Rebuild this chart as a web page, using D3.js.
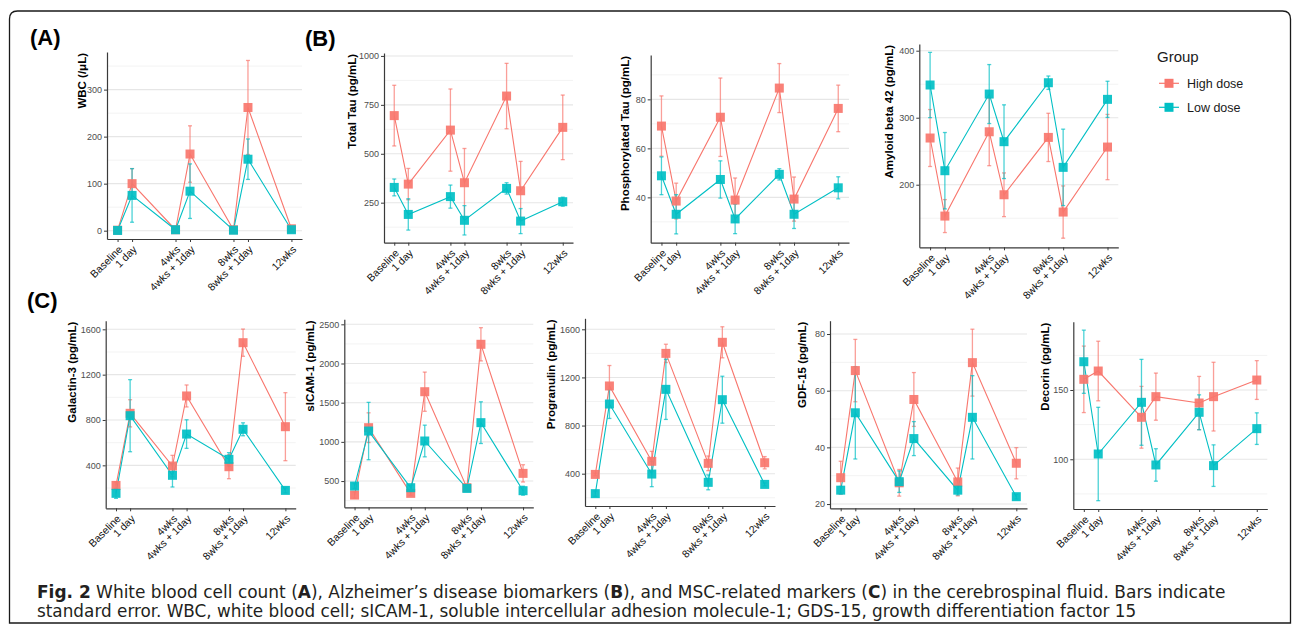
<!DOCTYPE html>
<html>
<head>
<meta charset="utf-8">
<script src="https://cdn.jsdelivr.net/npm/d3@7"></script>
<style>
    body { margin: 0; background: #fff; }
    svg text { font-family: "Liberation Sans", Arial, sans-serif; }
</style>
</head>
<body>
<div id="chart"></div>
<script>

// time points (x in weeks) and group names
const timepoints = ["Baseline", "1 day", "4wks", "4wks + 1day", "8wks", "8wks + 1day", "12wks"];
const timeWeeks = [0, 1, 4, 5, 8, 9, 12];
const groups = ["High dose", "Low dose"];

// (A) WBC
const wbcHigh = [1, 100, 2, 163, 2, 262, 4];
const wbcHighSE = [1, 32, 1, 60, 1, 100, 2];
const wbcLow = [0.5, 75, 2, 84, 1, 152, 2];
const wbcLowSE = [0.5, 57, 1, 58, 1, 43, 1];
const wbcTicks = [0, 100, 200, 300];

// (B) Total Tau
const tauHigh = [695, 345, 621, 352, 795, 311, 635];
const tauHighSE = [155, 80, 210, 175, 167, 150, 165];
const tauLow = [328, 190, 281, 160, 323, 156, 255];
const tauLowSE = [43, 80, 59, 75, 29, 64, 23];
const tauTicks = [250, 500, 750, 1000];

// (B) Phosphorylated Tau
const pTauHigh = [69.1, 38.5, 72.7, 38.9, 84.6, 39.3, 76.3];
const pTauHighSE = [12.3, 7.3, 16, 9, 10, 9, 9.5];
const pTauLow = [48.8, 33.1, 47.3, 31.2, 49.4, 33.1, 43.9];
const pTauLowSE = [7.7, 8, 7.6, 6, 2.3, 5.8, 4.5];
const pTauTicks = [40, 60, 80];

// (B) Amyloid beta 42
const abHigh = [269.7, 153.2, 279, 185, 270.6, 159.2, 256.2];
const abHighSE = [42.5, 24.6, 50.6, 32.6, 36, 39, 48.7];
const abLow = [348.8, 220.9, 335.3, 264.2, 352.2, 225.9, 327.4];
const abLowSE = [48.7, 57, 44, 55, 10, 57, 27];
const abTicks = [200, 300, 400];

// (C) Galactin-3
const galHigh = [223, 859, 394, 1012, 388, 1482, 741];
const galHighSE = [30, 120, 94, 97, 106, 120, 300];
const galLow = [153, 838, 312, 676, 453, 718, 179];
const galLowSE = [44, 318, 103, 126, 59, 57, 22];
const galTicks = [400, 800, 1200, 1600];

// (C) sICAM-1
const icamHigh = [321, 1181, 343, 1640, 415, 2245, 598];
const icamHighSE = [40, 190, 25, 250, 25, 212, 110];
const icamLow = [436, 1138, 415, 1011, 406, 1245, 377];
const icamLowSE = [30, 366, 30, 202, 25, 266, 57];
const icamTicks = [500, 1000, 1500, 2000, 2500];

// (C) Progranulin
const pgrnHigh = [394, 1129, 503, 1400, 486, 1492, 491];
const pgrnHighSE = [10, 170, 83, 76, 61, 129, 51];
const pgrnLow = [234, 979, 397, 1101, 328, 1015, 311];
const pgrnLowSE = [22, 120, 105, 250, 62, 195, 12];
const pgrnTicks = [400, 800, 1200, 1600];

// (C) GDF-15
const gdfHigh = [29.3, 67.1, 27.5, 56.9, 27.8, 69.9, 34.4];
const gdfHighSE = [5.8, 11, 4.7, 9.5, 4.9, 11.8, 5.5];
const gdfLow = [24.9, 52.2, 27.9, 43.1, 24.9, 50.6, 22.6];
const gdfLowSE = [1.3, 16.3, 3.8, 6, 1.7, 14.7, 0.8];
const gdfTicks = [20, 40, 60, 80];

// (C) Decorin
const dcnHigh = [157.7, 163.7, 130.3, 145.2, 140.6, 145.2, 157.2];
const dcnHighSE = [24, 21.5, 22.3, 17, 19.2, 24.8, 14];
const dcnLow = [170.4, 103.8, 141.1, 95.9, 133.9, 95.4, 122.1];
const dcnLowSE = [22.8, 33.7, 31, 11.7, 12.6, 15, 11.4];
const dcnTicks = [100, 150];

const colors = d3.scaleOrdinal().domain(groups).range(["#F8766D", "#00BFC4"]);


class LinePanel {

    constructor(svg, box, yDomain, yTicks, yTitle, high, highSE, low, lowSE) {
        this.svg = svg;
        this.box = box;
        this.yDomain = yDomain;
        this.yTicks = yTicks;
        this.yTitle = yTitle;

        // one row per group, values joined to the time points
        this.displayData = [[high, highSE], [low, lowSE]].map((s, gi) => ({
            group: groups[gi],
            values: timeWeeks.map((w, i) => ({week: w, mean: s[0][i], se: s[1][i]}))
        }));

        this.initVis();
    }

    initVis() {
        let vis = this;
        let b = vis.box;

        vis.x = d3.scaleLinear().domain([-0.73, 12.73]).range([b.left, b.right]);
        vis.y = d3.scaleLinear().domain(vis.yDomain).range([b.bottom, b.top]);

        vis.g = vis.svg.append("g");

        // minor grid lines sit halfway between the major ones
        let step = vis.yTicks[1] - vis.yTicks[0];
        let minor = [vis.yTicks[0] - step / 2].concat(vis.yTicks.map(t => t + step / 2))
            .filter(v => v > vis.yDomain[0] && v < vis.yDomain[1]);

        vis.g.selectAll(".minor").data(minor).enter().append("line")
            .attr("x1", b.left).attr("x2", b.right)
            .attr("y1", d => vis.y(d)).attr("y2", d => vis.y(d))
            .attr("stroke", "#f3f3f3").attr("stroke-width", 1);
        vis.g.selectAll(".major").data(vis.yTicks).enter().append("line")
            .attr("x1", b.left).attr("x2", b.right)
            .attr("y1", d => vis.y(d)).attr("y2", d => vis.y(d))
            .attr("stroke", "#e6e6e6").attr("stroke-width", 1.1);

        // axes
        let yAxis = d3.axisLeft(vis.y).tickValues(vis.yTicks).tickFormat(d3.format("d"))
            .tickSize(3).tickSizeOuter(0).tickPadding(2);
        let yg = vis.g.append("g").attr("transform", `translate(${b.left},0)`).call(yAxis);
        yg.select(".domain").attr("stroke", "#3a3a3a").attr("stroke-width", 1.2);
        yg.selectAll(".tick line").attr("stroke", "#3a3a3a");
        yg.selectAll("text").attr("fill", "#4d4d4d").style("font-size", "9px");

        let xAxis = d3.axisBottom(vis.x).tickValues(timeWeeks).tickSize(3).tickSizeOuter(0)
            .tickFormat((d, i) => timepoints[i]);
        let xg = vis.g.append("g").attr("transform", `translate(0,${b.bottom})`).call(xAxis);
        xg.select(".domain").attr("stroke", "#3a3a3a").attr("stroke-width", 1.2);
        xg.selectAll(".tick line").attr("stroke", "#3a3a3a");
        xg.selectAll("text")
            .attr("x", 0).attr("y", 0).attr("dy", 0)
            .attr("text-anchor", "end")
            .attr("transform", "translate(5,11) rotate(-45)")
            .attr("fill", "#111")
            .style("font-size", "10.5px");

        // axis title, top aligned
        vis.g.append("text")
            .attr("transform", `translate(${b.titleX},${b.top + 1}) rotate(-90)`)
            .attr("text-anchor", "end")
            .attr("dy", "0.35em")
            .style("font-size", "11.5px")
            .style("font-weight", "bold")
            .attr("fill", "#000")
            .text(vis.yTitle);

        vis.updateVis();
    }

    updateVis() {
        let vis = this;

        let line = d3.line().x(d => vis.x(d.week)).y(d => vis.y(d.mean));

        vis.g.selectAll(".series-line").data(vis.displayData).enter().append("path")
            .attr("class", "series-line")
            .attr("d", d => line(d.values))
            .attr("fill", "none")
            .attr("stroke", d => colors(d.group))
            .attr("stroke-width", 1.1);

        // error bars
        vis.displayData.forEach(s => {
            let eg = vis.g.append("g")
                .attr("stroke", colors(s.group))
                .attr("stroke-opacity", 0.7)
                .attr("stroke-width", 1.3);
            eg.selectAll(".err").data(s.values).enter().append("line")
                .attr("x1", d => vis.x(d.week)).attr("x2", d => vis.x(d.week))
                .attr("y1", d => vis.y(d.mean - d.se)).attr("y2", d => vis.y(d.mean + d.se));
            eg.selectAll(".cap-top").data(s.values).enter().append("line")
                .attr("x1", d => vis.x(d.week) - 2).attr("x2", d => vis.x(d.week) + 2)
                .attr("y1", d => vis.y(d.mean + d.se)).attr("y2", d => vis.y(d.mean + d.se));
            eg.selectAll(".cap-bottom").data(s.values).enter().append("line")
                .attr("x1", d => vis.x(d.week) - 2).attr("x2", d => vis.x(d.week) + 2)
                .attr("y1", d => vis.y(d.mean - d.se)).attr("y2", d => vis.y(d.mean - d.se));
        });

        // square points
        vis.displayData.forEach(s => {
            vis.g.append("g").selectAll("rect").data(s.values).enter().append("rect")
                .attr("x", d => vis.x(d.week) - 4.5)
                .attr("y", d => vis.y(d.mean) - 4.5)
                .attr("width", 9).attr("height", 9)
                .attr("fill", colors(s.group))
                .attr("fill-opacity", 0.92);
        });
    }
}


let svg = d3.select("#chart").append("svg")
    .attr("width", 1295)
    .attr("height", 625);

// frame with rounded top corners
svg.append("path")
    .attr("d", "M9.5,623 V19 Q9.5,11 17.5,11 H1282.5 Q1290.5,11 1290.5,19 V623 Z")
    .attr("fill", "none")
    .attr("stroke", "#1a1a1a")
    .attr("stroke-width", 1.3);

// panel letters
[["(A)", 30, 45], ["(B)", 305, 46], ["(C)", 27, 308]].forEach(p => {
    svg.append("text").attr("x", p[1]).attr("y", p[2])
        .style("font-size", "22px").style("font-weight", "bold")
        .attr("fill", "#000").text(p[0]);
});

new LinePanel(svg, {left: 107, right: 302, top: 52, bottom: 239, titleX: 82},
    [-17.7, 380], wbcTicks, "WBC (/μL)", wbcHigh, wbcHighSE, wbcLow, wbcLowSE);
new LinePanel(svg, {left: 384, right: 573, top: 53, bottom: 242.7, titleX: 352},
    [45.5, 1015], tauTicks, "Total Tau (pg/mL)", tauHigh, tauHighSE, tauLow, tauLowSE);
new LinePanel(svg, {left: 650.7, right: 849, top: 55, bottom: 242.7, titleX: 625},
    [21.5, 98.1], pTauTicks, "Phosphorylated Tau (pg/mL)", pTauHigh, pTauHighSE, pTauLow, pTauLowSE);
new LinePanel(svg, {left: 919.3, right: 1118.3, top: 44, bottom: 247.3, titleX: 889},
    [106.6, 410], abTicks, "Amyloid beta 42 (pg/mL)", abHigh, abHighSE, abLow, abLowSE);

new LinePanel(svg, {left: 105.7, right: 295.7, top: 320.7, bottom: 508.3, titleX: 72},
    [21, 1676], galTicks, "Galactin-3 (pg/mL)", galHigh, galHighSE, galLow, galLowSE);
new LinePanel(svg, {left: 344.3, right: 533.3, top: 319.3, bottom: 507.3, titleX: 310},
    [165, 2564], icamTicks, "sICAM-1 (pg/mL)", icamHigh, icamHighSE, icamLow, icamLowSE);
new LinePanel(svg, {left: 585, right: 775, top: 318.3, bottom: 506, titleX: 551},
    [131.4, 1691.5], pgrnTicks, "Progranulin (pg/mL)", pgrnHigh, pgrnHighSE, pgrnLow, pgrnLowSE);
new LinePanel(svg, {left: 830, right: 1027, top: 320.7, bottom: 508.3, titleX: 802},
    [18.5, 84.7], gdfTicks, "GDF-15 (pg/mL)", gdfHigh, gdfHighSE, gdfLow, gdfLowSE);
new LinePanel(svg, {left: 1073.3, right: 1267.3, top: 321.7, bottom: 509, titleX: 1045},
    [64.1, 199.3], dcnTicks, "Decorin (pg/mL)", dcnHigh, dcnHighSE, dcnLow, dcnLowSE);

// legend
let legend = svg.append("g");
legend.append("text").attr("x", 1157).attr("y", 62)
    .style("font-size", "15px").attr("fill", "#1a1a1a").text("Group");
groups.forEach((gname, i) => {
    let cy = 83.3 + i * 24;
    legend.append("line").attr("x1", 1159).attr("x2", 1179).attr("y1", cy).attr("y2", cy)
        .attr("stroke", colors(gname)).attr("stroke-width", 1.2);
    legend.append("rect").attr("x", 1164.5).attr("y", cy - 4.5).attr("width", 9).attr("height", 9)
        .attr("fill", colors(gname));
    legend.append("text").attr("x", 1187).attr("y", cy + 4.5)
        .style("font-size", "12.5px").attr("fill", "#1a1a1a").text(gname);
});

// caption, squeezed horizontally to the width of the reference lines
let captionLines = [
    [["Fig. 2", true], [" White blood cell count (", false], ["A", true], ["), Alzheimer’s disease biomarkers (", false],
        ["B", true], ["), and MSC-related markers (", false], ["C", true],
        [") in the cerebrospinal fluid. Bars indicate", false]],
    [["standard error. WBC, white blood cell; sICAM-1, soluble intercellular adhesion molecule-1; GDS-15, growth differentiation factor 15", false]]
];
let captionWidths = [1189, 1100];
captionLines.forEach((parts, li) => {
    let t = svg.append("text")
        .style("font-family", "'Liberation Sans Narrow', 'DejaVu Sans Condensed', sans-serif")
        .style("font-size", "17px")
        .attr("fill", "#231f20");
    parts.forEach(p => {
        t.append("tspan").style("font-weight", p[1] ? "bold" : "normal").text(p[0]);
    });
    let w = t.node().getComputedTextLength();
    t.attr("transform", `translate(37,${598 + li * 19}) scale(${captionWidths[li] / w},1)`);
});

</script>
</body>
</html>
